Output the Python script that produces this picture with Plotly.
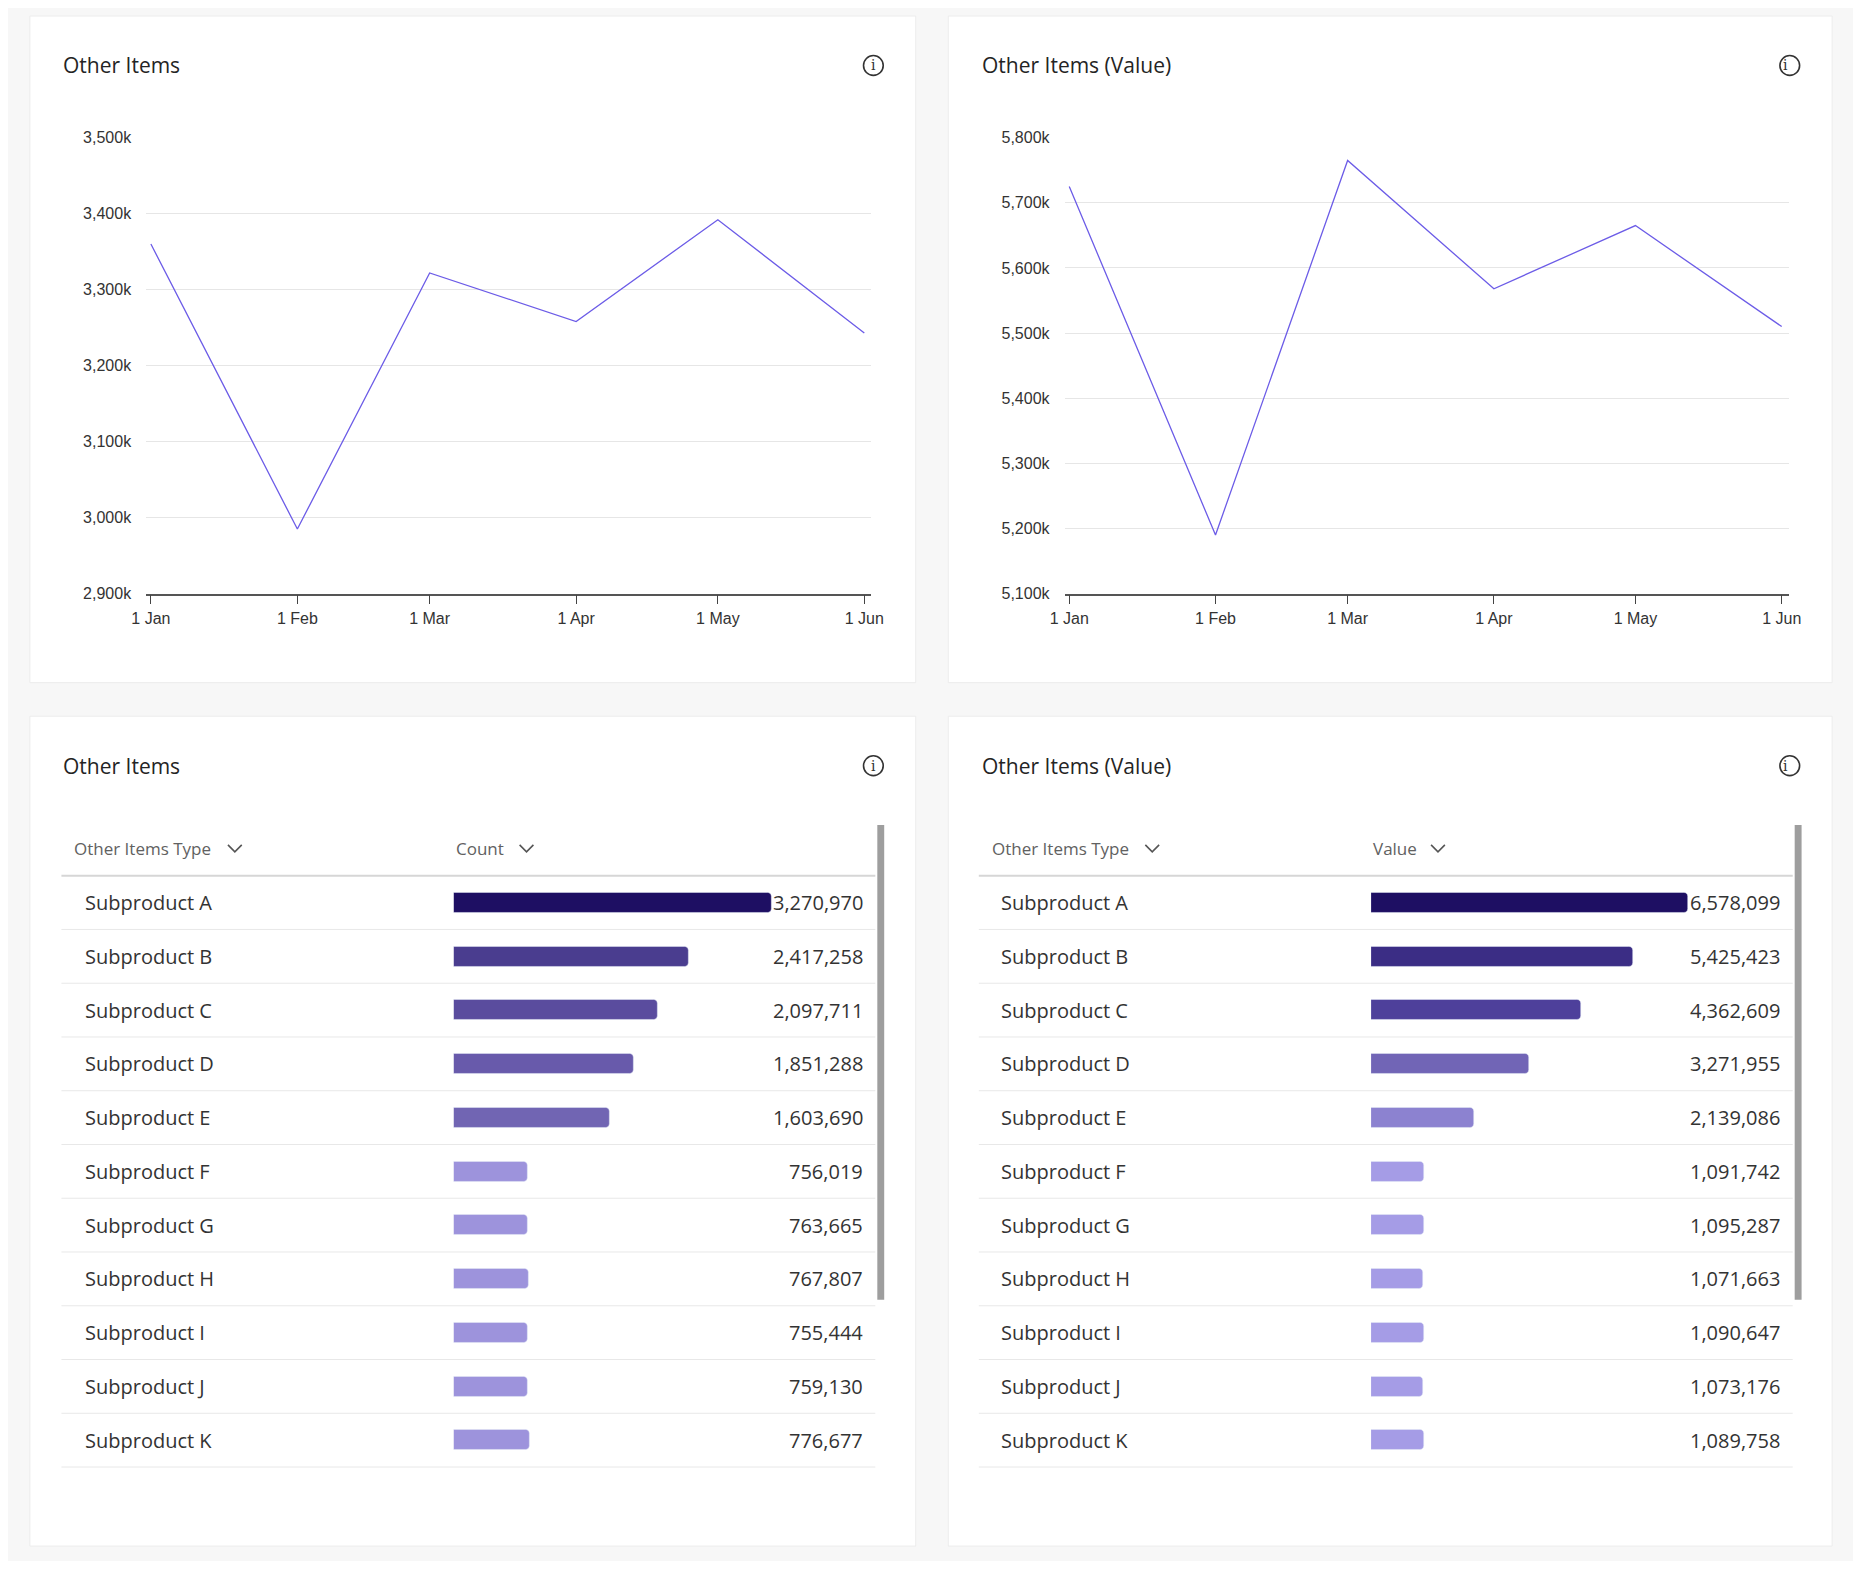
import plotly.graph_objects as go

W, H = 1861, 1569
PAD = 8  # default body margin of the html page

# ---- data ----
months = ["2023-01-01", "2023-02-01", "2023-03-01", "2023-04-01", "2023-05-01", "2023-06-01"]
month_labels = ["1 Jan", "1 Feb", "1 Mar", "1 Apr", "1 May", "1 Jun"]
count_trend = [3360, 2985, 3322, 3258, 3392, 3243]          # thousands
value_trend = [5725, 5190, 5765, 5568, 5665, 5510]          # thousands
count_ticks = [2900, 3000, 3100, 3200, 3300, 3400, 3500]
value_ticks = [5100, 5200, 5300, 5400, 5500, 5600, 5700, 5800]

products = ["Subproduct " + c for c in "ABCDEFGHIJK"]
counts = [3270970, 2417258, 2097711, 1851288, 1603690, 756019, 763665, 767807, 755444, 759130, 776677]
values = [6578099, 5425423, 4362609, 3271955, 2139086, 1091742, 1095287, 1071663, 1090647, 1073176, 1089758]
count_colors = ["#1e0f63", "#4a3d8f", "#5a4c9e", "#685aab", "#7165b3"] + ["#9d93dc"] * 6
value_colors = ["#1e0f63", "#3b2d85", "#4e409b", "#7165b6", "#8c82d0"] + ["#a59ce6"] * 6

FW, FH = W - 2 * PAD, H - 2 * PAD


def px(x):
    return (x - PAD) / FW


def py(y):
    return 1 - (y - PAD) / FH


FONT = "Open Sans"
TICKFONT = "Liberation Sans"

fig = go.Figure()
shapes = []
annos = []

# ---- cards ----
cards = [(15, 8, 914, 682), (947, 8, 1844, 682), (15, 716, 914, 1555), (947, 716, 1844, 1555)]
for x0, y0, x1, y1 in cards:
    shapes.append(dict(type="rect", xref="paper", yref="paper", x0=px(x0), x1=px(x1), y0=py(y1), y1=py(y0),
                       fillcolor="white", line=dict(color="#ececec", width=1), layer="below"))


def card_header(x0, x1, y, title):
    annos.append(dict(x=px(x0 + 32), y=py(y), xref="paper", yref="paper", text=title, showarrow=False,
                      xanchor="left", yanchor="middle", font=dict(family=FONT, size=21, color="#242424")))
    cx = x1 - 43
    shapes.append(dict(type="circle", xref="paper", yref="paper", x0=px(cx - 10), x1=px(cx + 10),
                       y0=py(y + 10), y1=py(y - 10), line=dict(color="#333", width=1.6)))
    annos.append(dict(x=px(cx), y=py(y), xref="paper", yref="paper", text="i", showarrow=False,
                      yanchor="middle", font=dict(family="DejaVu Serif", size=14, color="#333")))


for (x0, y0, x1, y1), t in zip(cards, ["Other Items", "Other Items (Value)", "Other Items", "Other Items (Value)"]):
    card_header(x0, x1, y0 + 50, t)

# ---- line charts ----
line_domains = [(133, 869), (1065, 1800)]
for i, (trend, ticks, dom) in enumerate([(count_trend, count_ticks, line_domains[0]),
                                          (value_trend, value_ticks, line_domains[1])]):
    n = "" if i == 0 else str(i + 1)
    fig.add_trace(go.Scatter(x=months, y=trend, mode="lines", line=dict(color="#6c5ce7", width=1.3),
                             xaxis="x" + n, yaxis="y" + n, showlegend=False, hoverinfo="x+y"))
    fig.update_layout(**{
        "xaxis" + n: dict(domain=[px(dom[0]), px(dom[1])], anchor="y" + n, type="date",
                          range=["2022-12-31", "2023-06-02 12:00"], tickvals=months, ticktext=month_labels,
                          showgrid=False, showline=True, linecolor="#555", linewidth=1.5,
                          ticks="outside", ticklen=9, tickcolor="#444",
                          tickfont=dict(family=TICKFONT, size=16, color="#333")),
        "yaxis" + n: dict(domain=[py(592), py(131)], anchor="x" + n, range=[ticks[0], ticks[-1]],
                          tickvals=ticks, ticktext=[f"{t:,}k" for t in ticks], showgrid=True,
                          gridcolor="#e6e6e6", zeroline=False, ticks="", showline=False, ticklabelstandoff=14,
                          tickfont=dict(family=TICKFONT, size=16, color="#333")),
    })

# ---- tables ----
row0 = 904.4
row_h = 54.35
tables = [
    dict(x0=47, x1=873, label_x=69, bar0=445, bar1=768, val_x=863, head2="Count", data=counts,
         colors=count_colors, chev1=223, chev2=519, scroll=875),
    dict(x0=978, x1=1804, label_x=999, bar0=1376, bar1=1698, val_x=1793, head2="Value", data=values,
         colors=value_colors, chev1=1154, chev2=1444, scroll=1806),
]
head_y = 850


def chevron(cx, cy):
    shapes.append(dict(type="path", xref="paper", yref="paper",
                       path=f"M {px(cx - 7)},{py(cy - 4)} L {px(cx)},{py(cy + 3)} L {px(cx + 7)},{py(cy - 4)}",
                       line=dict(color="#555", width=1.6)))


for k, t in enumerate(tables):
    n = str(k + 3)
    fig.add_trace(go.Bar(x=t["data"], y=list(range(len(products))), orientation="h",
                         marker=dict(color=t["colors"], cornerradius=4), width=0.37,
                         xaxis="x" + n, yaxis="y" + n, showlegend=False, hoverinfo="x"))
    fig.update_layout(**{
        "xaxis" + n: dict(domain=[px(t["bar0"]), px(t["bar1"])], anchor="y" + n, range=[0, max(t["data"])],
                          visible=False),
        "yaxis" + n: dict(domain=[py(row0 + 10.5 * row_h), py(row0 - 0.5 * row_h)], anchor="x" + n,
                          range=[len(products) - 0.5, -0.5], visible=False),
    })
    # header
    annos.append(dict(x=px(t["x0"] + 11), y=py(head_y), xref="paper", yref="paper", text="Other Items Type",
                      showarrow=False, xanchor="left", yanchor="middle",
                      font=dict(family=FONT, size=17, color="#616161")))
    annos.append(dict(x=px(t["bar0"]), y=py(head_y), xref="paper", yref="paper", text=t["head2"],
                      showarrow=False, xanchor="left", yanchor="middle",
                      font=dict(family=FONT, size=17, color="#616161")))
    chevron(t["chev1"], head_y)
    chevron(t["chev2"], head_y)
    shapes.append(dict(type="line", xref="paper", yref="paper", x0=px(t["x0"]), x1=px(t["x1"]),
                       y0=py(row0 - 0.5 * row_h), y1=py(row0 - 0.5 * row_h), line=dict(color="#d6d6d6", width=2)))
    for r, (name, v) in enumerate(zip(products, t["data"])):
        yc = row0 + r * row_h
        annos.append(dict(x=px(t["label_x"]), y=py(yc), xref="paper", yref="paper", text=name, showarrow=False,
                          xanchor="left", yanchor="middle", font=dict(family=FONT, size=20, color="#333")))
        annos.append(dict(x=px(t["val_x"]), y=py(yc), xref="paper", yref="paper", text=f"{v:,}",
                          showarrow=False, xanchor="right", yanchor="middle",
                          font=dict(family=FONT, size=20, color="#333")))
        yl = yc + 0.5 * row_h
        shapes.append(dict(type="line", xref="paper", yref="paper", x0=px(t["x0"]), x1=px(t["x1"]),
                           y0=py(yl), y1=py(yl), line=dict(color="#e8e8e8", width=1)))
    # scrollbar
    shapes.append(dict(type="rect", xref="paper", yref="paper", x0=px(t["scroll"]), x1=px(t["scroll"] + 7),
                       y0=py(1306), y1=py(826), fillcolor="#9e9e9e", line=dict(width=0)))

fig.update_layout(width=FW, height=FH, margin=dict(l=0, r=0, t=0, b=0), paper_bgcolor="#f7f7f7",
                  plot_bgcolor="rgba(0,0,0,0)", shapes=shapes, annotations=annos, bargap=0)

fig.write_html("out.html")
